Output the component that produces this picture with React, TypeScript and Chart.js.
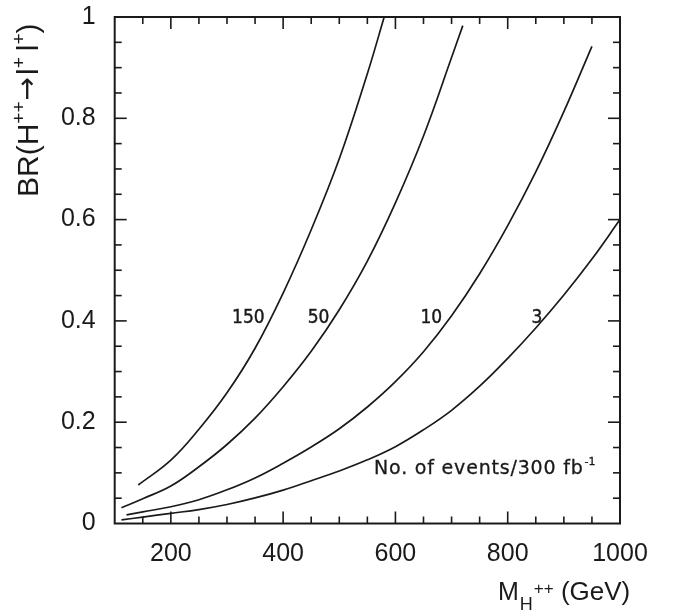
import React, { useEffect, useRef } from 'react';
import { Chart, registerables } from 'chart.js';

Chart.register(...registerables);

// ---- data ----
const massTicks = [200, 400, 600, 800, 1000];
const brTicks = [0, 0.2, 0.4, 0.6, 0.8, 1];
const massMinorStep = 50;
const brMinorStep = 0.05;

const eventCounts = ['150', '50', '10', '3'];

const mass150 = [142, 200, 250, 300, 350, 400, 450, 500, 550, 580];
const br150 = [0.076, 0.125, 0.186, 0.258, 0.346, 0.455, 0.58, 0.72, 0.888, 1.0];

const mass50 = [112, 150, 200, 250, 300, 350, 400, 450, 500, 550, 600, 650, 700, 720];
const br50 = [0.031, 0.049, 0.074, 0.112, 0.156, 0.208, 0.27, 0.34, 0.422, 0.518, 0.633, 0.765, 0.92, 0.983];

const mass10 = [121, 150, 200, 250, 300, 350, 400, 450, 500, 550, 600, 650, 700, 750, 800, 850, 900, 950];
const br10 = [0.017, 0.023, 0.033, 0.047, 0.0665, 0.09, 0.119, 0.151, 0.187, 0.23, 0.28, 0.339, 0.41, 0.493, 0.588, 0.694, 0.813, 0.942];

const mass3 = [112, 150, 200, 250, 300, 350, 400, 450, 500, 550, 600, 650, 700, 750, 800, 850, 900, 950, 1000];
const br3 = [0.007, 0.0127, 0.0201, 0.0275, 0.0375, 0.0505, 0.066, 0.0845, 0.1037, 0.1257, 0.1517, 0.185, 0.2235, 0.271, 0.326, 0.386, 0.451, 0.522, 0.6];

const curveLabelMass = [338, 463, 664, 852];
const curveLabelBR = 0.396;

const noteText = 'No. of events/300 fb';
const noteSup = '-1';
const noteMass = 562;
const noteBR = 0.098;

const INK = '#1a1a1a';
const SANS = '"Liberation Sans", Arial, Helvetica, sans-serif';
const GEO = '"DejaVu Sans Condensed", "DejaVu Sans", sans-serif';
const GEO_WIDE = '"DejaVu Sans", sans-serif';

type Seg = { t: string; size: number; dy?: number; gap?: number; family?: string; spacing?: number };

function drawSegs(ctx: CanvasRenderingContext2D, segs: Seg[], x0: number, y0: number, stroke = 0) {
  let x = x0;
  for (const s of segs) {
    ctx.font = `${s.size}px ${s.family || SANS}`;
    (ctx as any).letterSpacing = `${s.spacing || 0}px`;
    x += s.gap || 0;
    ctx.fillText(s.t, x, y0 + (s.dy || 0));
    if (stroke > 0) {
      ctx.lineWidth = stroke;
      ctx.strokeText(s.t, x, y0 + (s.dy || 0));
    }
    x += ctx.measureText(s.t).width;
  }
  (ctx as any).letterSpacing = '0px';
}

const framePlugin = {
  id: 'frame',
  afterDraw(chart: any) {
    const { ctx, chartArea: a, scales } = chart;
    const x = scales.x;
    const y = scales.y;
    ctx.save();
    ctx.strokeStyle = INK;
    ctx.fillStyle = INK;

    // frame
    ctx.lineWidth = 2;
    ctx.strokeRect(a.left, a.top, a.right - a.left, a.bottom - a.top);

    // inward ticks on all four sides
    ctx.lineWidth = 1.6;
    const seg = (x1: number, y1: number, x2: number, y2: number) => {
      ctx.beginPath();
      ctx.moveTo(x1, y1);
      ctx.lineTo(x2, y2);
      ctx.stroke();
    };
    const xmin = x.min, xmax = x.max;
    for (let v = Math.ceil(xmin / massMinorStep) * massMinorStep; v < xmax; v += massMinorStep) {
      if (v <= xmin) continue;
      const px = x.getPixelForValue(v);
      const len = massTicks.includes(v) ? 12 : 7;
      seg(px, a.bottom, px, a.bottom - len);
      seg(px, a.top, px, a.top + len);
    }
    const nY = Math.round((y.max - y.min) / brMinorStep);
    for (let i = 1; i < nY; i++) {
      const v = y.min + i * brMinorStep;
      const py = y.getPixelForValue(v);
      const len = i % 4 === 0 ? 12 : 7;
      seg(a.left, py, a.left + len, py);
      seg(a.right, py, a.right - len, py);
    }

    // curve labels
    ctx.textBaseline = 'alphabetic';
    ctx.textAlign = 'center';
    ctx.font = `19px ${GEO}`;
    ctx.lineWidth = 0.4;
    eventCounts.forEach((t, i) => {
      const px = x.getPixelForValue(curveLabelMass[i]);
      const py = y.getPixelForValue(curveLabelBR);
      ctx.fillText(t, px, py);
      ctx.strokeText(t, px, py);
    });

    // note
    ctx.textAlign = 'left';
    drawSegs(
      ctx,
      [
        { t: noteText, size: 19, family: GEO_WIDE, spacing: 0.8 },
        { t: noteSup, size: 11, dy: -9, gap: 1, family: GEO_WIDE },
      ],
      x.getPixelForValue(noteMass),
      y.getPixelForValue(noteBR),
      0.3
    );

    // x axis title
    drawSegs(
      ctx,
      [
        { t: 'M', size: 25 },
        { t: 'H', size: 18, dy: 10, gap: 1 },
        { t: '++', size: 17, dy: -6, gap: 1 },
        { t: ' (GeV)', size: 26 },
      ],
      498,
      600
    );

    // y axis title (rotated)
    ctx.translate(38, 197);
    ctx.rotate(-Math.PI / 2);
    drawSegs(
      ctx,
      [
        { t: 'BR(H', size: 30 },
        { t: '++', size: 19, dy: -13 },
        { t: '\u2192', size: 28, gap: 1, dy: -2, family: GEO_WIDE },
        { t: 'l', size: 30, gap: 2 },
        { t: '+', size: 19, dy: -13 },
        { t: 'l', size: 30, gap: 6 },
        { t: '+', size: 19, dy: -13 },
        { t: ')', size: 30 },
      ],
      0,
      0
    );
    ctx.restore();
  },
};

function pts(ms: number[], bs: number[]) {
  return ms.map((m, i) => ({ x: m, y: bs[i] }));
}

export default function App() {
  const ref = useRef<HTMLCanvasElement>(null);
  useEffect(() => {
    if (!ref.current) return;
    const line = (ms: number[], bs: number[], label: string) => ({
      label,
      data: pts(ms, bs),
      borderColor: INK,
      borderWidth: 1.7,
      pointRadius: 0,
      fill: false,
      tension: 0.4,
    });
    const chart = new Chart(ref.current, {
      type: 'line',
      data: {
        datasets: [
          line(mass150, br150, eventCounts[0]),
          line(mass50, br50, eventCounts[1]),
          line(mass10, br10, eventCounts[2]),
          line(mass3, br3, eventCounts[3]),
        ],
      },
      options: {
        responsive: false,
        animation: false,
        devicePixelRatio: 1,
        layout: { padding: { left: 0, top: 17, right: 55, bottom: 0 } },
        plugins: { legend: { display: false }, tooltip: { enabled: false } },
        scales: {
          x: {
            type: 'linear',
            min: 100,
            max: 1000,
            grid: { display: false, drawTicks: false },
            border: { display: false },
            afterBuildTicks: (s: any) => {
              s.ticks = massTicks.map((v) => ({ value: v }));
            },
            afterFit: (s: any) => {
              s.height = 90.5;
              s.paddingLeft = 0;
              s.paddingRight = 0;
            },
            ticks: {
              font: { family: SANS, size: 25 },
              color: INK,
              padding: 16,
              maxRotation: 0,
              autoSkip: false,
              callback: (v: any) => String(v),
            },
          },
          y: {
            type: 'linear',
            min: 0,
            max: 1,
            grid: { display: false, drawTicks: false },
            border: { display: false },
            afterBuildTicks: (s: any) => {
              s.ticks = brTicks.map((v) => ({ value: v }));
            },
            afterFit: (s: any) => {
              s.width = 114.7;
              s.paddingTop = 0;
              s.paddingBottom = 0;
            },
            ticks: {
              font: { family: SANS, size: 25 },
              color: INK,
              padding: 19,
              autoSkip: false,
              callback: (v: any) => String(v),
            },
          },
        },
      },
      plugins: [framePlugin],
    });
    return () => chart.destroy();
  }, []);
  return (
    <div style={{ position: 'absolute', left: 0, top: 0, width: 675, height: 614, background: '#fff' }}>
      <canvas ref={ref} width={675} height={614} style={{ display: 'block' }} />
    </div>
  );
}
